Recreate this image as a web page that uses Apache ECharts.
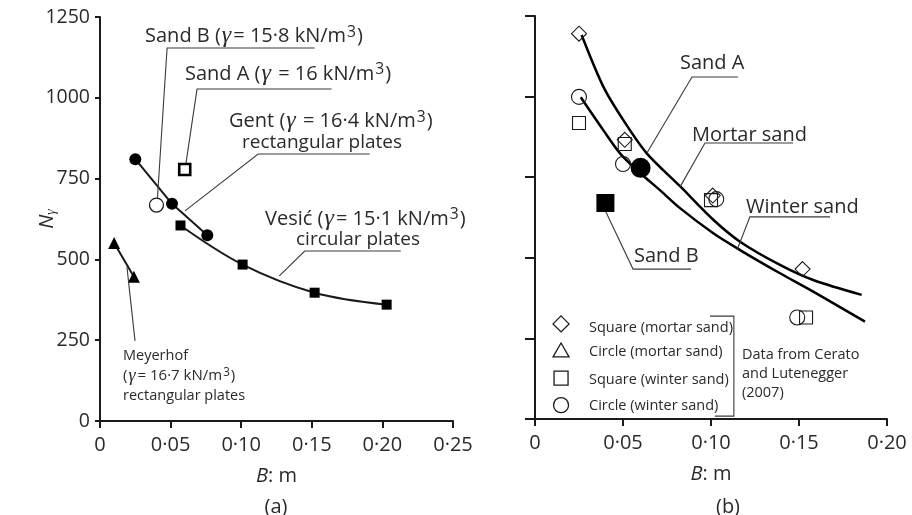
<!DOCTYPE html>
<html><head><meta charset="utf-8">
<script src="https://cdn.jsdelivr.net/npm/echarts@6/dist/echarts.min.js"></script>
<style>html,body{margin:0;padding:0;background:#fff}#c{width:912px;height:515px}</style>
</head><body><div id="c"></div>
<script>
// ---------- Panel (a) data ----------
const gentB = [0.025, 0.051, 0.076];
const gentN = [810, 672, 575];
const vesicB = [0.057, 0.101, 0.152, 0.203];
const vesicN = [605, 484, 397, 360];
const meyerhofB = [0.010, 0.024];
const meyerhofN = [551, 446];
const sandB_aB = [0.040];
const sandB_aN = [668];
const sandA_aB = [0.060];
const sandA_aN = [778];
// ---------- Panel (b) data ----------
const sqMortarB = [0.025, 0.051, 0.101, 0.152];
const sqMortarN = [1195, 866, 693, 465];
const ciMortarB = [];
const ciMortarN = [];
const sqWinterB = [0.025, 0.051, 0.100, 0.154];
const sqWinterN = [918, 853, 679, 315];
const ciWinterB = [0.025, 0.050, 0.103, 0.149];
const ciWinterN = [999, 791, 682, 315];
const mortarCurveB = [0.0265, 0.0388, 0.0502, 0.0635, 0.0824, 0.1013, 0.1165, 0.1392, 0.1581, 0.1856];
const mortarCurveN = [1191, 1031, 927, 824, 722, 618, 550, 478, 431, 385];
const winterCurveB = [0.026, 0.0388, 0.0483, 0.0597, 0.0710, 0.0824, 0.1013, 0.1165, 0.1392, 0.1581, 0.1875];
const winterCurveN = [998, 896, 824, 763, 710, 654, 576, 524, 452, 395, 302];
const sandA_bB = [0.060];
const sandA_bN = [779];
const sandB_bB = [0.040];
const sandB_bN = [670];
// ---------- ticks ----------
const xTicksA = [0, 0.05, 0.10, 0.15, 0.20, 0.25];
const xTicksB = [0, 0.05, 0.10, 0.15, 0.20];
const yTicks = [0, 250, 500, 750, 1000, 1250];

const zip = (a, b) => a.map((v, i) => [v, b[i]]);
const FONT = '"Open Sans", "Noto Sans", sans-serif';
const INK = '#1a1a1a';
const TXT = '#2a2a2a';
const fmtX = v => (Math.abs(v) < 1e-9 ? '0' : v.toFixed(2).replace('.', '·'));

const xAxisBase = (gi, ticks) => ({
  type: 'value', gridIndex: gi, min: ticks[0], max: ticks[ticks.length - 1], interval: 0.05,
  axisLine: { show: true, lineStyle: { color: INK, width: 2 } },
  axisTick: { show: true, inside: false, length: 7, lineStyle: { color: INK, width: 2 } },
  axisLabel: { formatter: fmtX, color: TXT, fontSize: 20, fontFamily: FONT, margin: 14 },
  splitLine: { show: false },
  name: '{b|B}{m|: m}', nameLocation: 'middle', nameGap: 45,
  nameTextStyle: { rich: {
    b: { fontStyle: 'italic', fontSize: 20, fontFamily: FONT, color: TXT },
    m: { fontSize: 20, fontFamily: FONT, color: TXT } } }
});
const yAxisBase = (gi, showLabel, tickLen) => ({
  type: 'value', gridIndex: gi, min: yTicks[0], max: yTicks[yTicks.length - 1], interval: 250,
  axisLine: { show: true, onZero: false, lineStyle: { color: INK, width: 2 } },
  axisTick: { show: true, inside: false, length: tickLen, lineStyle: { color: INK, width: 2 } },
  axisLabel: { show: showLabel, color: TXT, fontSize: 19.5, fontFamily: FONT, margin: 10, formatter: v => String(v) },
  splitLine: { show: false }
});

const yA = yAxisBase(0, true, 5);
yA.name = '{n|N}{g|γ}';
yA.nameLocation = 'middle';
yA.nameGap = 42;
yA.nameMoveOverlap = false;
yA.nameRotate = 90;
yA.nameTextStyle = { rich: {
  n: { fontStyle: 'italic', fontSize: 20, fontFamily: FONT, color: TXT },
  g: { fontStyle: 'italic', fontSize: 14, fontFamily: '"Liberation Serif", serif', color: TXT, padding: [8, 0, 0, 0] } } };

const option = {
  animation: false,
  backgroundColor: '#ffffff',
  grid: [
    { left: 100, top: 17, width: 353, height: 404 },
    { left: 535, top: 16, width: 352, height: 403 }
  ],
  xAxis: [xAxisBase(0, xTicksA), xAxisBase(1, xTicksB)],
  yAxis: [yA, yAxisBase(1, false, 10)],
  title: [
    { text: '(a)', left: 271, top: 492, textAlign: 'center', textStyle: { fontSize: 20, fontWeight: 'normal', fontFamily: FONT, color: TXT } },
    { text: '(b)', left: 723, top: 492, textAlign: 'center', textStyle: { fontSize: 20, fontWeight: 'normal', fontFamily: FONT, color: TXT } }
  ],
  series: [
    { name: 'Gent', type: 'line', xAxisIndex: 0, yAxisIndex: 0, data: zip(gentB, gentN),
      symbol: 'circle', symbolSize: 12, lineStyle: { color: INK, width: 2 }, itemStyle: { color: '#000', opacity: 1 } },
    { name: 'Vesić', type: 'line', smooth: 0.35, xAxisIndex: 0, yAxisIndex: 0, data: zip(vesicB, vesicN),
      symbol: 'rect', symbolSize: 10, lineStyle: { color: INK, width: 2 }, itemStyle: { color: '#000', opacity: 1 } },
    { name: 'Meyerhof', type: 'line', xAxisIndex: 0, yAxisIndex: 0, data: zip(meyerhofB, meyerhofN),
      symbol: 'triangle', symbolSize: 12, lineStyle: { color: INK, width: 2 }, itemStyle: { color: '#000', opacity: 1 } },
    { name: 'Sand B (a)', type: 'scatter', xAxisIndex: 0, yAxisIndex: 0, data: zip(sandB_aB, sandB_aN),
      symbol: 'circle', symbolSize: 14, itemStyle: { color: '#fff', opacity: 1, borderColor: INK, borderWidth: 1.3 }, z: 5 },
    { name: 'Sand A (a)', type: 'scatter', xAxisIndex: 0, yAxisIndex: 0, data: zip(sandA_aB, sandA_aN),
      symbol: 'rect', symbolSize: 11, itemStyle: { color: '#fff', opacity: 1, borderColor: '#000', borderWidth: 2.6 }, z: 5 },

    { name: 'Mortar sand', type: 'line', smooth: 0.3, xAxisIndex: 1, yAxisIndex: 1, data: zip(mortarCurveB, mortarCurveN),
      showSymbol: false, symbol: 'none', lineStyle: { color: '#000', width: 2.5 } },
    { name: 'Winter sand', type: 'line', smooth: 0.3, xAxisIndex: 1, yAxisIndex: 1, data: zip(winterCurveB, winterCurveN),
      showSymbol: false, symbol: 'none', lineStyle: { color: '#000', width: 2.5 } },
    { name: 'Square (mortar sand)', type: 'scatter', xAxisIndex: 1, yAxisIndex: 1, data: zip(sqMortarB, sqMortarN),
      symbol: 'diamond', symbolSize: 15, itemStyle: { color: 'rgba(255,255,255,0)', opacity: 1, borderColor: INK, borderWidth: 1.1 }, z: 4 },
    { name: 'Circle (mortar sand)', type: 'scatter', xAxisIndex: 1, yAxisIndex: 1, data: zip(ciMortarB, ciMortarN),
      symbol: 'triangle', symbolSize: 14, itemStyle: { color: 'rgba(255,255,255,0)', opacity: 1, borderColor: INK, borderWidth: 1.1 }, z: 4 },
    { name: 'Square (winter sand)', type: 'scatter', xAxisIndex: 1, yAxisIndex: 1, data: zip(sqWinterB, sqWinterN),
      symbol: 'rect', symbolSize: 13, itemStyle: { color: 'rgba(255,255,255,0)', opacity: 1, borderColor: INK, borderWidth: 1.1 }, z: 4 },
    { name: 'Circle (winter sand)', type: 'scatter', xAxisIndex: 1, yAxisIndex: 1, data: zip(ciWinterB, ciWinterN),
      symbol: 'circle', symbolSize: 15, itemStyle: { color: 'rgba(255,255,255,0)', opacity: 1, borderColor: INK, borderWidth: 1.1 }, z: 4 },
    { name: 'Sand A (b)', type: 'scatter', xAxisIndex: 1, yAxisIndex: 1, data: zip(sandA_bB, sandA_bN),
      symbol: 'circle', symbolSize: 20, itemStyle: { color: '#000', opacity: 1 }, z: 6 },
    { name: 'Sand B (b)', type: 'scatter', xAxisIndex: 1, yAxisIndex: 1, data: zip(sandB_bB, sandB_bN),
      symbol: 'rect', symbolSize: 18, itemStyle: { color: '#000', opacity: 1 }, z: 6 }
  ]
};

const chart = echarts.init(document.getElementById('c'), null, { renderer: 'canvas' });
chart.setOption(option);

// ---------- annotations (positions in data coordinates of each panel) ----------
const notes = [
  { g: 0, at: [0.0319, 1191], size: 20, text: 'Sand B ({g|γ}= 15·8 kN/m{s|3})' },
  { g: 0, at: [0.0602, 1074], size: 20, text: 'Sand A ({g|γ} = 16 kN/m{s|3})' },
  { g: 0, at: [0.0914, 928], size: 20, text: 'Gent ({g|γ} = 16·4 kN/m{s|3})' },
  { g: 0, at: [0.1006, 860], size: 19, text: 'rectangular plates' },
  { g: 0, at: [0.1169, 625], size: 20, text: 'Vesić ({g|γ}= 15·1 kN/m{s|3})' },
  { g: 0, at: [0.1388, 560], size: 19, text: 'circular plates' },
  { g: 0, at: [0.0163, 201], size: 14.5, text: 'Meyerhof' },
  { g: 0, at: [0.0163, 139], size: 15, text: '({g|γ}= 16·7 kN/m{s|3})' },
  { g: 0, at: [0.0163, 77], size: 14.5, text: 'rectangular plates' },
  { g: 1, at: [0.0824, 1104], size: 20, text: 'Sand A' },
  { g: 1, at: [0.0892, 881], size: 20, text: 'Mortar sand' },
  { g: 1, at: [0.1199, 658], size: 20, text: 'Winter sand' },
  { g: 1, at: [0.0562, 506], size: 20, text: 'Sand B' },
  { g: 1, at: [0.0307, 282], size: 14.5, text: 'Square (mortar sand)' },
  { g: 1, at: [0.0307, 208], size: 14.5, text: 'Circle (mortar sand)' },
  { g: 1, at: [0.0307, 121], size: 14.5, text: 'Square (winter sand)' },
  { g: 1, at: [0.0307, 40], size: 14.5, text: 'Circle (winter sand)' },
  { g: 1, at: [0.1176, 199], size: 14.5, text: 'Data from Cerato' },
  { g: 1, at: [0.1176, 140], size: 14.5, text: 'and Lutenegger' },
  { g: 1, at: [0.1176, 81], size: 14.5, text: '(2007)' }
];
const leaders = [
  { g: 0, pts: [[0.152, 1154], [0.0475, 1154], [0.0407, 690]] },
  { g: 0, pts: [[0.164, 1027], [0.0687, 1027], [0.0609, 798]] },
  { g: 0, pts: [[0.191, 826], [0.112, 826], [0.0602, 650]] },
  { g: 0, pts: [[0.213, 526], [0.145, 526], [0.127, 449]] },
  { g: 0, pts: [[0.0248, 248], [0.0191, 476]] },
  { g: 1, pts: [[0.1153, 1061], [0.0892, 1061], [0.0636, 825]] },
  { g: 1, pts: [[0.1466, 856], [0.0966, 856], [0.0824, 720]] },
  { g: 1, pts: [[0.1676, 627], [0.1221, 627], [0.1148, 524]] },
  { g: 1, pts: [[0.0403, 642], [0.0557, 465], [0.0886, 465]] },
  { g: 1, pts: [[0.0994, 319], [0.113, 319], [0.113, 9], [0.1022, 9]] }
];
const legendMarks = [
  { at: [0.0148, 295], kind: 'diamond' },
  { at: [0.0148, 211], kind: 'triangle' },
  { at: [0.0148, 127], kind: 'square' },
  { at: [0.0148, 43], kind: 'circle' }
];

const toPx = (g, p) => chart.convertToPixel({ gridIndex: g }, p);
const graphics = [];
notes.forEach(n => {
  const p = toPx(n.g, n.at);
  graphics.push({ type: 'text', x: p[0], y: p[1], z: 10, silent: true,
    style: { text: n.text, fill: TXT, fontSize: n.size, fontFamily: FONT, align: 'left', verticalAlign: 'middle',
      rich: {
        g: { fontStyle: 'italic', fontFamily: '"Liberation Serif", serif', fontSize: n.size * 1.2, fill: TXT, padding: [0, 2, 0, 1] },
        s: { fontSize: n.size * 0.78, fontFamily: FONT, fill: TXT, verticalAlign: 'top', padding: [0, 1, 0, 1] }
      } } });
});
leaders.forEach(l => {
  graphics.push({ type: 'polyline', z: 9, silent: true, shape: { points: l.pts.map(p => toPx(l.g, p)) },
    style: { stroke: '#3a3a3a', lineWidth: 1.1, fill: null } });
});
const mStyle = { stroke: INK, lineWidth: 1.3, fill: null };
legendMarks.forEach(m => {
  const [cx, cy] = toPx(1, m.at);
  let el;
  if (m.kind === 'diamond') el = { type: 'polygon', shape: { points: [[cx, cy - 8], [cx + 8, cy], [cx, cy + 8], [cx - 8, cy]] } };
  else if (m.kind === 'triangle') el = { type: 'polygon', shape: { points: [[cx, cy - 8], [cx + 8, cy + 6], [cx - 8, cy + 6]] } };
  else if (m.kind === 'square') el = { type: 'rect', shape: { x: cx - 7, y: cy - 7, width: 14, height: 14 } };
  else el = { type: 'circle', shape: { cx: cx, cy: cy, r: 7.5 } };
  el.style = mStyle; el.z = 10; el.silent = true;
  graphics.push(el);
});
chart.setOption({ graphic: graphics });
</script>
</body></html>
